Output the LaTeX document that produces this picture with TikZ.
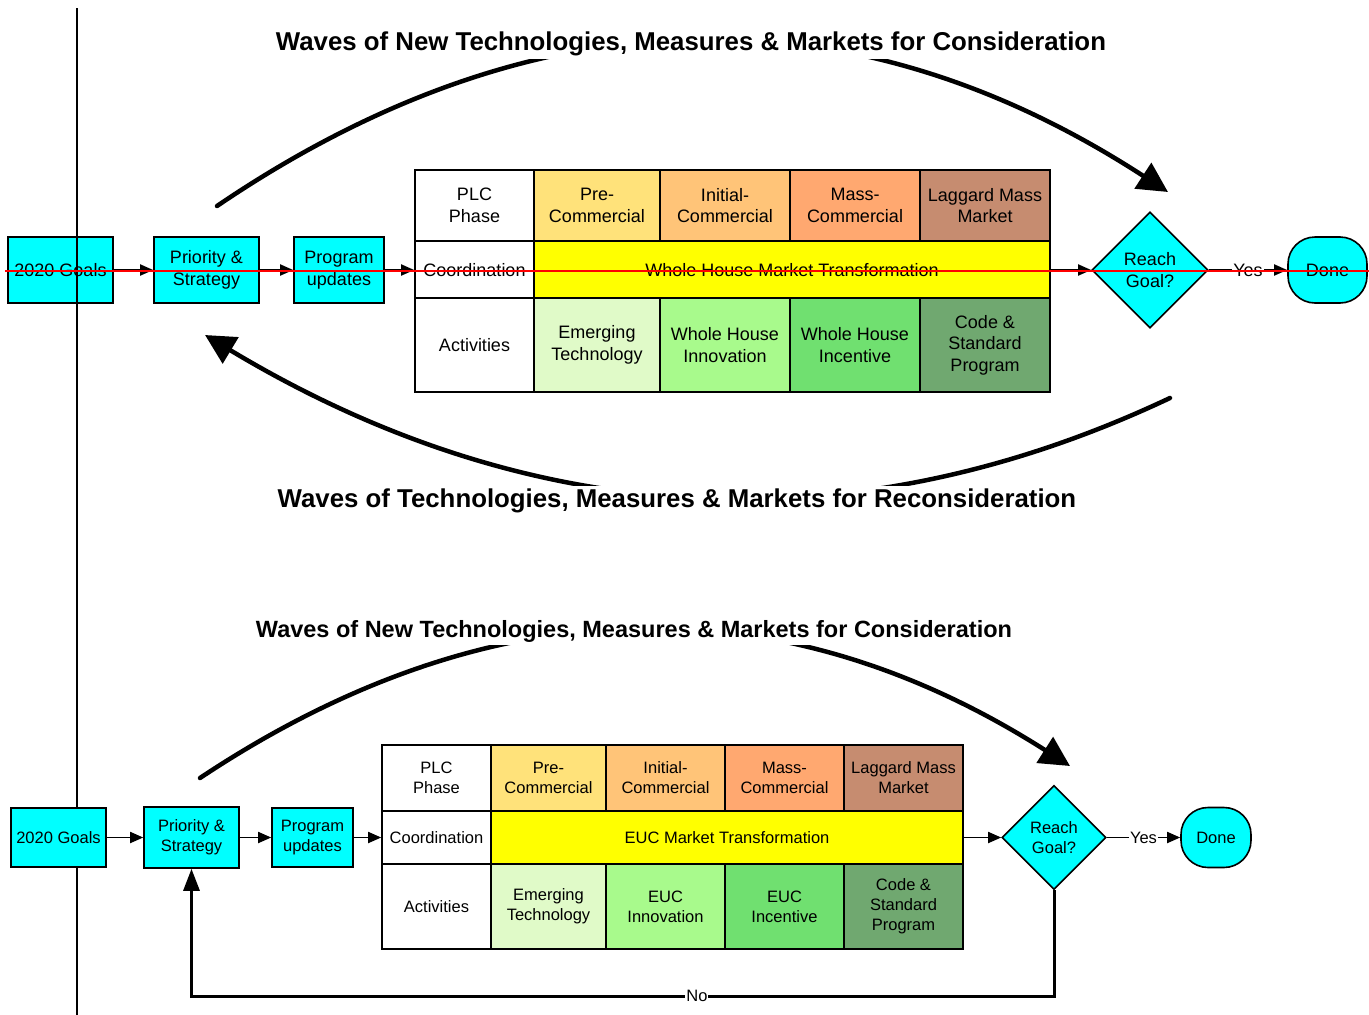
\documentclass[tikz,border=0pt]{standalone}
\usepackage{fontspec}
\setmainfont{Liberation Sans}
\usetikzlibrary{shapes.geometric,arrows.meta}
\definecolor{boxcyan}{RGB}{0,255,255}
\definecolor{precom}{RGB}{255,226,122}
\definecolor{initcom}{RGB}{255,196,120}
\definecolor{masscom}{RGB}{255,168,112}
\definecolor{laggard}{RGB}{198,140,112}
\definecolor{emerg}{RGB}{224,250,200}
\definecolor{innov}{RGB}{168,250,140}
\definecolor{incent}{RGB}{112,224,112}
\definecolor{codestd}{RGB}{112,168,112}
\definecolor{coordy}{RGB}{255,255,0}
\begin{document}
\begin{tikzpicture}[x=1pt,y=-1pt,
  box/.style={draw,fill=boxcyan,line width=1.6pt,align=center,inner sep=0pt},
  cell/.style={draw,line width=1.6pt,align=center,inner sep=0pt},
  decide/.style={box,diamond,aspect=1},
  donebox/.style={box,rounded corners=27pt},
  arr/.style={line width=1.8pt,-{Triangle[length=13pt,width=11pt]}},
  wave/.style={line width=4.5pt,line cap=round,-{Triangle[length=30pt,width=30pt]}},
  noloop/.style={line width=3pt,-{Triangle[length=22pt,width=16pt]}},
  lbl/.style={fill=white,inner sep=1pt}]
\useasboundingbox (0,0) rectangle (1369,1015);
% upper chart
\begin{scope}[font=\fontsize{18}{21.5}\selectfont]
\node[box,minimum width=105pt,minimum height=66pt] (goals1) at (60.5,270) {2020 Goals};
\node[box,minimum width=105pt,minimum height=66pt] (prio1) at (206.5,270) {Priority \&\\Strategy};
\node[box,minimum width=90pt,minimum height=66pt] (prog1) at (339,270) {Program\\updates};
\node[cell,fill=white,minimum width=119pt,minimum height=71pt] (plc1) at (474.5,205.5) {PLC\\Phase};
\node[cell,fill=precom,minimum width=126pt,minimum height=71pt] (pre1) at (597,205.5) {Pre-\\Commercial};
\node[cell,fill=initcom,minimum width=130pt,minimum height=71pt] (ini1) at (725,205.5) {Initial-\\Commercial};
\node[cell,fill=masscom,minimum width=130pt,minimum height=71pt] (mas1) at (855,205.5) {Mass-\\Commercial};
\node[cell,fill=laggard,minimum width=130pt,minimum height=71pt] (lag1) at (985,205.5) {Laggard Mass\\Market};
\node[cell,fill=white,minimum width=119pt,minimum height=57pt] (coord1) at (474.5,270) {Coordination};
\node[cell,fill=coordy,minimum width=516pt,minimum height=57pt] (trans1) at (792,270) {Whole House Market Transformation};
\node[cell,fill=white,minimum width=119pt,minimum height=94pt] (act1) at (474.5,345) {Activities};
\node[cell,fill=emerg,minimum width=126pt,minimum height=94pt] (eme1) at (597,345) {Emerging\\Technology};
\node[cell,fill=innov,minimum width=130pt,minimum height=94pt] (inn1) at (725,345) {Whole House\\Innovation};
\node[cell,fill=incent,minimum width=130pt,minimum height=94pt] (inc1) at (855,345) {Whole House\\Incentive};
\node[cell,fill=codestd,minimum width=130pt,minimum height=94pt] (cod1) at (985,345) {Code \&\\Standard\\Program};
\node[decide,minimum width=116pt,minimum height=116pt] (reach1) at (1150,270) {Reach\\Goal?};
\node[donebox,minimum width=79pt,minimum height=66pt] (done1) at (1327.5,270) {Done};
\draw[arr] (goals1) -- (prio1);
\draw[arr] (prio1) -- (prog1);
\draw[arr] (prog1) -- (coord1);
\draw[arr] (trans1) -- (reach1);
\draw[arr] (reach1) -- node[lbl] {Yes} (done1);
\coordinate (w1a) at (217,206);
\coordinate (w1b) at (1168,192);
\coordinate (w2a) at (1170,398);
\coordinate (w2b) at (205,335);
\draw[wave] (w1a) .. controls (534,-9) and (851,-14) .. (w1b);
\node[lbl,inner sep=3pt,font=\bfseries\fontsize{25.8}{30}\selectfont] (cons1) at (691,44)
  {Waves of New Technologies, Measures \& Markets for Consideration};
\draw[wave] (w2a) .. controls (848,550) and (526,528) .. (w2b);
\node[lbl,inner sep=3pt,font=\bfseries\fontsize{25.8}{30}\selectfont] (recons1) at (677,501)
  {Waves of Technologies, Measures \& Markets for Reconsideration};
\end{scope}
\draw[line width=1.6pt] (77,8) -- (77,1015);
\draw[red,line width=1.5pt] (5,271) -- (1369,271);
% lower chart
\begin{scope}[font=\fontsize{16.5}{20}\selectfont]
\node[box,minimum width=95pt,minimum height=59pt] (goals2) at (58.5,837.5) {2020 Goals};
\node[box,minimum width=95pt,minimum height=61pt] (prio2) at (191.5,837.5) {Priority \&\\Strategy};
\node[box,minimum width=81pt,minimum height=59pt] (prog2) at (312.5,837.5) {Program\\updates};
\node[cell,fill=white,minimum width=109pt,minimum height=66pt] (plc2) at (436.5,778) {PLC\\Phase};
\node[cell,fill=precom,minimum width=115pt,minimum height=66pt] (pre2) at (548.5,778) {Pre-\\Commercial};
\node[cell,fill=initcom,minimum width=119pt,minimum height=66pt] (ini2) at (665.5,778) {Initial-\\Commercial};
\node[cell,fill=masscom,minimum width=119pt,minimum height=66pt] (mas2) at (784.5,778) {Mass-\\Commercial};
\node[cell,fill=laggard,minimum width=119pt,minimum height=66pt] (lag2) at (903.5,778) {Laggard Mass\\Market};
\node[cell,fill=white,minimum width=109pt,minimum height=53pt] (coord2) at (436.5,837.5) {Coordination};
\node[cell,fill=coordy,minimum width=472pt,minimum height=53pt] (trans2) at (727,837.5) {EUC Market Transformation};
\node[cell,fill=white,minimum width=109pt,minimum height=85pt] (act2) at (436.5,906.5) {Activities};
\node[cell,fill=emerg,minimum width=115pt,minimum height=85pt] (eme2) at (548.5,906.5) {Emerging\\Technology};
\node[cell,fill=innov,minimum width=119pt,minimum height=85pt] (inn2) at (665.5,906.5) {EUC\\Innovation};
\node[cell,fill=incent,minimum width=119pt,minimum height=85pt] (inc2) at (784.5,906.5) {EUC\\Incentive};
\node[cell,fill=codestd,minimum width=119pt,minimum height=85pt] (cod2) at (903.5,906.5) {Code \&\\Standard\\Program};
\node[decide,minimum width=104pt,minimum height=104pt] (reach2) at (1054,837.5) {Reach\\Goal?};
\node[donebox,minimum width=70pt,minimum height=60pt] (done2) at (1216,837.5) {Done};
\draw[arr] (goals2) -- (prio2);
\draw[arr] (prio2) -- (prog2);
\draw[arr] (prog2) -- (coord2);
\draw[arr] (trans2) -- (reach2);
\draw[arr] (reach2) -- node[lbl] {Yes} (done2);
\coordinate (nobase) at (1054,996);
\draw[noloop] (reach2.south) -- (nobase) -| node[lbl,pos=0.207] {No} (prio2.south);
\coordinate (w3a) at (200,778);
\coordinate (w3b) at (1070,766);
\draw[wave] (w3a) .. controls (490,585) and (780,581) .. (w3b);
\node[lbl,inner sep=3pt,font=\bfseries\fontsize{23.5}{27}\selectfont] (cons2) at (634,631)
  {Waves of New Technologies, Measures \& Markets for Consideration};
\end{scope}
\end{tikzpicture}
\end{document}
